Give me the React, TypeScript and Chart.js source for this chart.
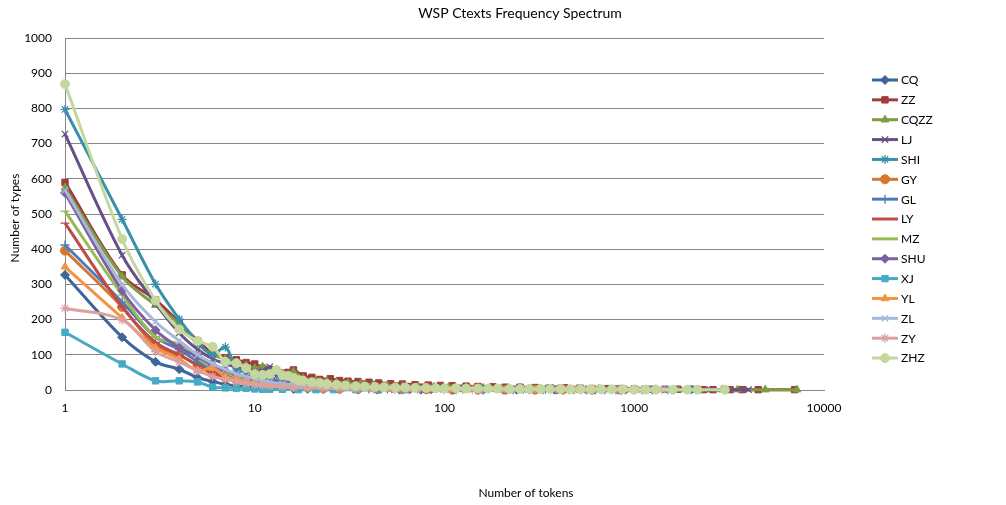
import React, { useEffect, useRef } from 'react';
import { Chart, registerables } from 'chart.js';
import { drawPoint } from 'chart.js/helpers';

Chart.register(...registerables);

// ---------- data ----------
const chartTitle = 'WSP Ctexts Frequency Spectrum';
const xAxisTitle = 'Number of tokens';
const yAxisTitle = 'Number of types';
const xTickValues = [1, 10, 100, 1000, 10000];
const yMin = 0;
const yMax = 1000;
const yStep = 100;

const seriesNames = ['CQ', 'ZZ', 'CQZZ', 'LJ', 'SHI', 'GY', 'GL', 'LY', 'MZ', 'SHU', 'XJ', 'YL', 'ZL', 'ZY', 'ZHZ'];

const cqTokens = [1, 2, 3, 4, 5, 6, 7, 8, 9, 10, 11, 12, 14, 16, 19, 23, 28, 35, 44, 58, 75, 110, 160, 240, 380, 620, 900];
const cqTypes = [327, 150, 80, 59, 35, 24, 16, 12, 9, 7, 6, 5, 4, 3, 3, 2, 2, 1, 1, 1, 1, 1, 1, 1, 1, 1, 1];

const zzTokens = [1, 2, 3, 4, 5, 6, 7, 8, 9, 10, 11, 12, 13, 14, 15, 16, 18, 20, 22, 25, 28, 31, 35, 40, 45, 52, 60, 70, 82, 95, 110, 130, 150, 180, 210, 250, 300, 360, 430, 520, 600, 720, 860, 1000, 1200, 1450, 1700, 2000, 2300, 2600, 3200, 3700, 4500, 7000];
const zzTypes = [590, 327, 256, 192, 140, 105, 92, 86, 78, 74, 62, 58, 55, 48, 50, 57, 40, 36, 30, 32, 27, 25, 24, 22, 20, 18, 17, 15, 14, 13, 12, 11, 10, 9, 8, 8, 7, 6, 6, 5, 4, 4, 3, 3, 2, 2, 2, 2, 1, 1, 1, 1, 1, 1];

const cqzzTokens = [1, 2, 3, 4, 5, 6, 7, 8, 9, 10, 11, 12, 13, 14, 15, 16, 18, 21, 24, 27, 31, 36, 42, 50, 60, 72, 88, 105, 130, 160, 200, 250, 320, 400, 500, 650, 800, 1000, 1300, 1700, 2200, 2900, 3500, 4900, 7200];
const cqzzTypes = [575, 322, 241, 188, 130, 100, 88, 78, 70, 62, 66, 52, 48, 44, 42, 52, 33, 28, 25, 22, 20, 17, 15, 13, 11, 10, 9, 8, 7, 6, 5, 5, 4, 4, 3, 3, 2, 2, 2, 1, 1, 1, 1, 1, 1];

const ljTokens = [1, 2, 3, 4, 5, 6, 7, 8, 9, 10, 11, 12, 13, 14, 15, 17, 19, 22, 25, 29, 34, 40, 48, 57, 68, 82, 100, 125, 155, 190, 240, 300, 380, 480, 600, 780, 1000, 1300, 1650, 2100, 2500, 3000, 4000];
const ljTypes = [727, 383, 246, 162, 115, 88, 75, 64, 58, 52, 55, 66, 40, 35, 30, 26, 22, 19, 16, 14, 12, 10, 9, 8, 7, 6, 5, 4, 4, 3, 3, 2, 2, 2, 1, 1, 1, 1, 1, 1, 1, 1, 1];

const shiTokens = [1, 2, 3, 4, 5, 6, 7, 8, 9, 10, 11, 12, 13, 14, 16, 18, 21, 25, 30, 36, 44, 54, 66, 80, 100, 125, 160, 200, 260, 340, 450, 600, 800, 1100, 1500, 2000];
const shiTypes = [797, 485, 301, 201, 135, 100, 122, 60, 50, 42, 36, 30, 26, 23, 19, 16, 13, 11, 9, 8, 7, 6, 5, 4, 4, 3, 3, 2, 2, 2, 1, 1, 1, 1, 1, 1];

const gyTokens = [1, 2, 3, 4, 5, 6, 7, 8, 9, 10, 11, 12, 14, 16, 19, 23, 28, 35, 45, 60, 80, 110, 150, 210, 300, 420, 600, 850];
const gyTypes = [396, 236, 125, 99, 70, 45, 35, 28, 22, 18, 15, 13, 10, 8, 7, 5, 4, 3, 3, 2, 2, 1, 1, 1, 1, 1, 1, 1];

const glTokens = [1, 2, 3, 4, 5, 6, 7, 8, 9, 10, 11, 12, 14, 16, 19, 22, 27, 33, 40, 50, 65, 85, 115, 160, 230, 330, 480, 700, 1000];
const glTypes = [412, 250, 150, 115, 80, 55, 40, 32, 25, 20, 17, 15, 12, 10, 8, 6, 5, 4, 3, 3, 2, 2, 1, 1, 1, 1, 1, 1, 1];

const lyTokens = [1, 2, 3, 4, 5, 6, 7, 8, 9, 10, 11, 12, 14, 16, 19, 23, 28, 34, 42, 55, 72, 100, 140, 200, 290, 420, 640];
const lyTypes = [474, 236, 135, 100, 70, 50, 38, 30, 24, 19, 16, 14, 11, 9, 7, 6, 5, 4, 3, 2, 2, 1, 1, 1, 1, 1, 1];

const mzTokens = [1, 2, 3, 4, 5, 6, 7, 8, 9, 10, 11, 12, 14, 16, 18, 21, 25, 30, 36, 44, 55, 70, 90, 120, 160, 220, 310, 450, 650, 950, 1400];
const mzTypes = [508, 270, 151, 130, 90, 65, 50, 40, 33, 27, 23, 20, 16, 13, 11, 9, 8, 6, 5, 4, 3, 3, 2, 2, 1, 1, 1, 1, 1, 1, 1];

const shuTokens = [1, 2, 3, 4, 5, 6, 7, 8, 9, 10, 11, 12, 13, 15, 17, 20, 24, 29, 35, 43, 53, 66, 85, 112, 150, 205, 280, 390, 560, 820, 1250];
const shuTypes = [560, 282, 170, 120, 95, 70, 55, 45, 38, 30, 26, 22, 19, 16, 13, 11, 9, 7, 6, 5, 4, 3, 2, 2, 1, 1, 1, 1, 1, 1, 1];

const xjTokens = [1, 2, 3, 4, 5, 6, 7, 8, 9, 10, 11, 12, 14, 17, 21, 26, 34, 45, 62];
const xjTypes = [164, 74, 26, 26, 23, 8, 6, 5, 5, 3, 2, 2, 2, 1, 1, 1, 1, 1, 1];

const ylTokens = [1, 2, 3, 4, 5, 6, 7, 8, 9, 10, 11, 12, 14, 16, 19, 23, 28, 34, 42, 52, 65, 85, 110, 150, 200, 270, 360, 480, 620, 780, 900, 1000, 1150];
const ylTypes = [350, 205, 120, 88, 55, 62, 38, 30, 24, 19, 16, 14, 11, 9, 7, 6, 5, 4, 3, 3, 2, 2, 2, 1, 1, 1, 1, 1, 1, 1, 1, 1, 1];

const zlTokens = [1, 2, 3, 4, 5, 6, 7, 8, 9, 10, 11, 12, 14, 16, 18, 21, 25, 30, 37, 45, 56, 72, 92, 122, 165, 225, 310, 430, 610, 860, 1200, 1450];
const zlTypes = [568, 300, 194, 140, 100, 75, 58, 46, 38, 32, 27, 23, 18, 15, 12, 10, 8, 7, 6, 5, 4, 3, 2, 2, 1, 1, 1, 1, 1, 1, 1, 1];

const zyTokens = [1, 2, 3, 4, 5, 6, 7, 8, 9, 10, 11, 12, 14, 16, 19, 23, 28, 34, 42, 55, 72, 100, 140, 200, 280, 400, 560, 800, 1100, 1400];
const zyTypes = [232, 199, 109, 80, 55, 38, 30, 24, 19, 15, 13, 11, 9, 7, 6, 5, 4, 3, 3, 2, 2, 1, 1, 1, 1, 1, 1, 1, 1, 1];

const zhzTokens = [1, 2, 3, 4, 5, 6, 7, 8, 9, 10, 11, 12, 13, 14, 15, 16, 17, 18, 20, 22, 24, 27, 30, 34, 38, 43, 48, 55, 62, 70, 80, 90, 100, 115, 130, 150, 170, 190, 220, 250, 280, 320, 360, 410, 460, 520, 590, 670, 760, 870, 1000, 1150, 1300, 1600, 1900, 2150, 3000];
const zhzTypes = [869, 429, 254, 172, 139, 123, 80, 76, 62, 45, 43, 45, 57, 42, 40, 34, 28, 26, 22, 20, 17, 15, 13, 11, 10, 9, 8, 7, 7, 6, 6, 5, 5, 5, 4, 4, 4, 4, 3, 3, 3, 3, 3, 3, 2, 2, 2, 2, 2, 2, 1, 1, 1, 1, 1, 1, 1];

const seriesTokens = [cqTokens, zzTokens, cqzzTokens, ljTokens, shiTokens, gyTokens, glTokens, lyTokens, mzTokens, shuTokens, xjTokens, ylTokens, zlTokens, zyTokens, zhzTokens];
const seriesTypes = [cqTypes, zzTypes, cqzzTypes, ljTypes, shiTypes, gyTypes, glTypes, lyTypes, mzTypes, shuTypes, xjTypes, ylTypes, zlTypes, zyTypes, zhzTypes];

// ---------- styles ----------
const seriesColors = ['#3C6699', '#9E3D3A', '#7E9B46', '#674F88', '#3990A8', '#D4782F', '#4A7EBB', '#BE4B48', '#98B954', '#7D60A0', '#46AAC5', '#F69240', '#A7B9DB', '#DAA1A0', '#C4D79E'];
const seriesMarkers = ['rectRot', 'rect', 'triangle', 'crossRot', 'star', 'circle', 'cross', 'line', 'line', 'rectRot', 'rect', 'triangle', 'crossRot', 'star', 'circle'];
const FONT = 'Lato, "Open Sans", sans-serif';
const GRID = '#868686';

const W = 1006;
const H = 505;

function markerBorder(style: string) {
  return style === 'crossRot' || style === 'star' || style === 'cross' || style === 'line' ? 1.3 : 1;
}

const excelDecor = {
  id: 'excelDecor',
  afterDraw(chart: any) {
    const ctx = chart.ctx as CanvasRenderingContext2D;
    ctx.save();
    ctx.fillStyle = '#000';
    ctx.font = `14px ${FONT}`;
    ctx.textAlign = 'center';
    ctx.textBaseline = 'middle';
    ctx.fillText(chartTitle, 520, 13);
    ctx.font = `12px ${FONT}`;
    ctx.fillText(xAxisTitle, 526, 493);
    ctx.save();
    ctx.translate(15, 218);
    ctx.rotate(-Math.PI / 2);
    ctx.fillText(yAxisTitle, 0, 0);
    ctx.restore();
    const top = 80;
    const step = 19.86;
    chart.data.datasets.forEach((ds: any, i: number) => {
      const y = top + i * step;
      ctx.strokeStyle = ds.borderColor;
      ctx.lineWidth = 3;
      ctx.beginPath();
      ctx.moveTo(872, y);
      ctx.lineTo(898, y);
      ctx.stroke();
      if (ds.pointStyle !== 'line') {
        ctx.fillStyle = ds.pointBackgroundColor;
        ctx.strokeStyle = ds.pointBorderColor;
        ctx.lineWidth = ds.pointBorderWidth;
        drawPoint(ctx, { pointStyle: ds.pointStyle, rotation: 0, radius: 4.5, borderWidth: ds.pointBorderWidth }, 885, y);
      }
      ctx.fillStyle = '#000';
      ctx.font = `12px ${FONT}`;
      ctx.textAlign = 'left';
      ctx.textBaseline = 'middle';
      ctx.fillText(ds.label, 901, y + 0.5);
    });
    ctx.restore();
  },
};

export default function App() {
  const canvasRef = useRef<HTMLCanvasElement | null>(null);

  useEffect(() => {
    document.body.style.margin = '0';
    const canvas = canvasRef.current;
    if (!canvas) return;
    const n = seriesNames.length;
    const datasets = seriesNames.map((name, i) => ({
      label: name,
      data: seriesTokens[i].map((t, k) => ({ x: t, y: seriesTypes[i][k] })),
      borderColor: seriesColors[i],
      backgroundColor: seriesColors[i],
      pointBackgroundColor: seriesColors[i],
      pointBorderColor: seriesColors[i],
      pointStyle: seriesMarkers[i],
      pointRadius: seriesMarkers[i] === 'circle' ? 4.5 : 4.5,
      pointBorderWidth: markerBorder(seriesMarkers[i]),
      borderWidth: 3,
      tension: 0.35,
      fill: false,
      clip: false as any,
      order: n - 1 - i,
    }));

    const chart = new Chart(canvas, {
      type: 'line',
      data: { datasets },
      plugins: [excelDecor],
      options: {
        responsive: false,
        animation: false,
        devicePixelRatio: 1,
        layout: { padding: { top: 38, right: W - 824, bottom: 0, left: 0 } },
        plugins: {
          legend: { display: false },
          title: { display: false },
          tooltip: { enabled: false },
        },
        font: { family: FONT, size: 12 },
        scales: {
          x: {
            type: 'logarithmic',
            min: xTickValues[0],
            max: xTickValues[xTickValues.length - 1],
            grid: { display: false, drawTicks: false },
            border: { display: true, color: GRID, width: 1 },
            afterBuildTicks: (scale: any) => {
              scale.ticks = xTickValues.map((v) => ({ value: v }));
            },
            afterFit: (scale: any) => {
              scale.height = H - 390;
            },
            ticks: {
              autoSkip: false,
              maxRotation: 0,
              padding: 11,
              color: '#000',
              font: { family: FONT, size: 12 },
              callback: (v: any) => String(v),
            },
          },
          y: {
            type: 'linear',
            min: yMin,
            max: yMax,
            grid: { color: GRID, lineWidth: 1, drawTicks: false },
            border: { display: true, color: GRID, width: 1 },
            afterFit: (scale: any) => {
              scale.width = 65;
            },
            ticks: {
              stepSize: yStep,
              padding: 13,
              color: '#000',
              font: { family: FONT, size: 12 },
              callback: (v: any) => String(v),
            },
          },
        },
      } as any,
    });
    return () => chart.destroy();
  }, []);

  return (
    <div style={{ width: W, height: H, background: '#fff' }}>
      <canvas ref={canvasRef} width={W} height={H} style={{ width: W, height: H, display: 'block' }} />
    </div>
  );
}
